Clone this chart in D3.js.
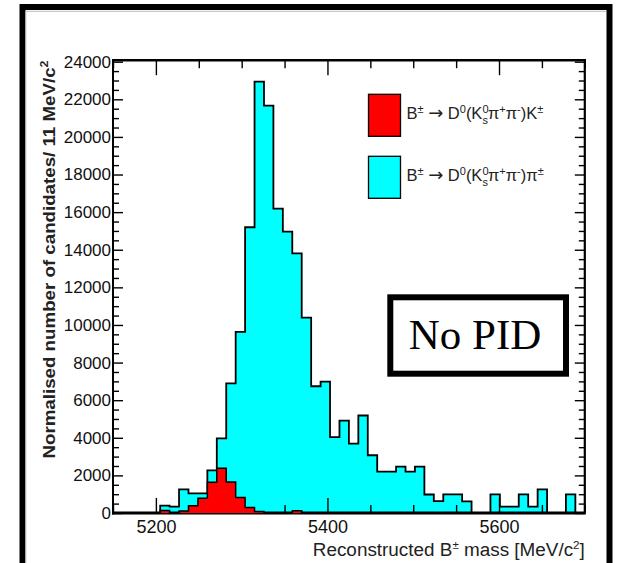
<!DOCTYPE html>
<html>
<head>
<meta charset="utf-8">
<script src="https://cdn.jsdelivr.net/npm/d3@7"></script>
<style>
  body { margin: 0; background: #fff; }
  svg { display: block; }
</style>
</head>
<body>
<svg id="chart" width="619" height="563"></svg>
<script>
// Binning of the reconstructed B mass: 50 bins of 11 MeV from 5150 to 5700
const massLow = 5150;
const binWidth = 11;
const massHigh = 5700;

// Normalised candidates per bin, B -> D0(Ks pi pi) pi (cyan)
const pionCounts = [
  0, 0, 0, 0, 0, 390, 337, 1260, 1046, 1046,
  2270, 3972, 6897, 9628, 15195, 22943, 21667, 16188, 14964, 13812,
  10390, 6740, 6985, 4040, 4910, 3690, 5185, 3070, 2198, 2198,
  2465, 2198, 2465, 985, 630, 994, 994, 620, 0, 0,
  994, 337, 337, 994, 337, 1260, 0, 0, 994, 0
];

// Normalised candidates per bin, B -> D0(Ks pi pi) K (red)
const kaonCounts = [
  0, 0, 0, 0, 0, 130, 0, 110, 390, 780,
  1630, 2380, 1650, 820, 290, 80, 0, 0, 0, 120,
  0, 0, 0, 0, 0, 0, 0, 0, 0, 0,
  0, 0, 0, 0, 0, 0, 0, 0, 0, 0,
  0, 0, 0, 0, 0, 0, 0, 0, 0, 0
];

const xTickLabels = [5200, 5400, 5600];
const yTickLabels = [0, 2000, 4000, 6000, 8000, 10000, 12000, 14000, 16000, 18000, 20000, 22000, 24000];

const svg = d3.select("#chart");

const plot = { left: 113, right: 584.8, top: 61.7, bottom: 513 };
const x = d3.scaleLinear().domain([massLow, massHigh]).range([plot.left, plot.right]);
const y = d3.scaleLinear().domain([0, 24000]).range([plot.bottom, plot.top]);

// Outer figure border
svg.append("rect")
  .attr("x", 22.5).attr("y", 7).attr("width", 587).attr("height", 570)
  .attr("fill", "none").attr("stroke", "#000").attr("stroke-width", 6);
svg.append("path")
  .attr("d", "M25.8,590V11.3H606")
  .attr("fill", "none").attr("stroke", "#bbb").attr("stroke-width", 1);

// Step outline of a histogram, built from bin edges and bin contents
function histPoints(counts) {
  const pts = [[massLow, 0]];
  counts.forEach((c, i) => {
    const lo = massLow + i * binWidth;
    pts.push([lo, c], [lo + binWidth, c]);
  });
  pts.push([massLow + counts.length * binWidth, 0]);
  return pts;
}
const stepLine = d3.line().x(d => x(d[0])).y(d => y(d[1]));

function drawHist(counts, color, width) {
  const pts = histPoints(counts);
  svg.append("path")
    .attr("d", stepLine(pts) + "Z")
    .attr("fill", color).attr("stroke", "none");
  svg.append("path")
    .attr("d", stepLine(pts))
    .attr("fill", "none").attr("stroke", "#000")
    .attr("stroke-width", width).attr("stroke-linejoin", "miter");
}

drawHist(pionCounts, "#00ffff", 1.8);

// Axes with inward ticks on all four sides
const minorX = d3.range(massLow, massHigh + 1, 50).filter(v => !xTickLabels.includes(v));
const minorY = d3.range(0, 24001, 500).filter(v => v % 2000 !== 0);

function styleAxis(g) {
  g.select(".domain").remove();
  g.selectAll(".tick line").attr("stroke", "#000").attr("stroke-width", 1.4);
}

svg.append("g").attr("transform", `translate(0,${plot.bottom})`)
  .call(d3.axisBottom(x).tickValues(minorX).tickSize(-8).tickFormat(""))
  .call(styleAxis);
svg.append("g").attr("class", "xmajor").attr("transform", `translate(0,${plot.bottom})`)
  .call(d3.axisBottom(x).tickValues(xTickLabels).tickSizeInner(-15).tickSizeOuter(0)
    .tickPadding(7).tickFormat(d3.format("d")))
  .call(styleAxis);
svg.append("g").attr("transform", `translate(0,${plot.top - 1.5})`)
  .call(d3.axisTop(x).tickValues(minorX).tickSize(-8).tickFormat(""))
  .call(styleAxis);
svg.append("g").attr("transform", `translate(0,${plot.top - 1.5})`)
  .call(d3.axisTop(x).tickValues(xTickLabels).tickSize(-15).tickFormat(""))
  .call(styleAxis);

svg.append("g").attr("transform", `translate(${plot.left},0)`)
  .call(d3.axisLeft(y).tickValues(minorY).tickSize(-6).tickFormat(""))
  .call(styleAxis);
// the top label is cut by the upper edge of the pad
svg.append("defs").append("clipPath").attr("id", "ylabclip")
  .attr("clipPathUnits", "userSpaceOnUse")
  .append("rect").attr("x", -200).attr("y", 54).attr("width", 400).attr("height", 509);
svg.append("g").attr("class", "ymajor").attr("transform", `translate(${plot.left},0)`)
  .attr("clip-path", "url(#ylabclip)")
  .call(d3.axisLeft(y).tickValues(yTickLabels).tickSizeInner(-10).tickSizeOuter(0)
    .tickPadding(2).tickFormat(d3.format("d")))
  .call(styleAxis);
svg.append("g").attr("transform", `translate(${plot.right},0)`)
  .call(d3.axisRight(y).tickValues(minorY).tickSize(-6).tickFormat(""))
  .call(styleAxis);
svg.append("g").attr("transform", `translate(${plot.right},0)`)
  .call(d3.axisRight(y).tickValues(yTickLabels).tickSize(-10).tickFormat(""))
  .call(styleAxis);

svg.selectAll(".xmajor text, .ymajor text")
  .attr("font-family", "'Liberation Sans', Arial, sans-serif")
  .attr("fill", "#111");
svg.selectAll(".xmajor text").attr("font-size", 18);
svg.selectAll(".ymajor text").attr("font-size", 17);

// Frame lines
const frame = svg.append("g").attr("stroke", "#000").attr("fill", "none");
frame.append("line").attr("x1", plot.left).attr("x2", plot.right + 1).attr("y1", plot.top - 1.5).attr("y2", plot.top - 1.5).attr("stroke-width", 2.4);
frame.append("line").attr("x1", plot.right).attr("x2", plot.right).attr("y1", plot.top - 2.7).attr("y2", plot.bottom).attr("stroke-width", 2.2);
frame.append("line").attr("x1", plot.left).attr("x2", plot.left).attr("y1", plot.top - 2.7).attr("y2", plot.bottom + 1.5).attr("stroke-width", 2);
frame.append("line").attr("x1", plot.left - 1).attr("x2", plot.right + 1).attr("y1", plot.bottom).attr("y2", plot.bottom).attr("stroke-width", 2.8);

// Kaon histogram is overlaid after the axes
drawHist(kaonCounts, "#ff0000", 1.5);

// Axis titles
const sans = "'Liberation Sans', Arial, sans-serif";
const xTitle = svg.append("text")
  .attr("x", plot.right).attr("y", 555.5)
  .attr("text-anchor", "end").attr("font-family", sans).attr("font-size", 18).attr("fill", "#222")
  .attr("textLength", 272).attr("lengthAdjust", "spacingAndGlyphs");
xTitle.append("tspan").text("Reconstructed B");
xTitle.append("tspan").attr("font-size", 11).attr("dy", -7).text("±");
xTitle.append("tspan").attr("dy", 7).text(" mass [MeV/c");
xTitle.append("tspan").attr("font-size", 11).attr("dy", -7).text("2");
xTitle.append("tspan").attr("dy", 7).text("]");

const yTitle = svg.append("text")
  .attr("transform", "translate(55,259.5) rotate(-90)")
  .attr("text-anchor", "middle").attr("font-family", sans)
  .attr("font-size", 16.5).attr("font-weight", "bold").attr("fill", "#222")
  .attr("textLength", 398).attr("lengthAdjust", "spacingAndGlyphs");
yTitle.append("tspan").text("Normalised number of candidates/ 11 MeV/c");
yTitle.append("tspan").attr("font-size", 11).attr("dy", -7).text("2");

// Legend
const legendEntries = [
  { color: "#ff0000", parts: [["B"], ["±", "sup"], [" "], ["\u2192", "arrow"], [" D"], ["0", "sup"], ["(K"], ["0", "sup"], ["s", "sub"], ["\u03c0"], ["+", "sup"], ["\u03c0"], ["-", "sup"], [")K"], ["±", "sup"]] },
  { color: "#00ffff", parts: [["B"], ["±", "sup"], [" "], ["\u2192", "arrow"], [" D"], ["0", "sup"], ["(K"], ["0", "sup"], ["s", "sub"], ["\u03c0"], ["+", "sup"], ["\u03c0"], ["-", "sup"], [")\u03c0"], ["±", "sup"]] }
];
const legendTop = [94.3, 156.3];
legendEntries.forEach((e, i) => {
  svg.append("rect")
    .attr("x", 368.5).attr("y", legendTop[i]).attr("width", 32).attr("height", 42)
    .attr("fill", e.color).attr("stroke", "#000").attr("stroke-width", 1.3);
  const t = svg.append("text")
    .attr("x", 406.5).attr("y", legendTop[i] + 25)
    .attr("font-family", sans).attr("font-size", 16.5).attr("fill", "#222");
  let shift = 0;
  e.parts.forEach(([s, kind]) => {
    const ts = t.append("tspan").text(s);
    let target = 0;
    if (kind === "sup") { ts.attr("font-size", 11); target = -6.5; }
    if (kind === "sub") { ts.attr("font-size", 11).attr("dx", -6.1); target = 5; }
    if (kind === "arrow") { ts.attr("font-family", "'DejaVu Sans', sans-serif").attr("font-size", 18); }
    ts.attr("dy", target - shift);
    shift = target;
  });
});

// "No PID" box
svg.append("rect")
  .attr("x", 390.3).attr("y", 297.3).attr("width", 175.7).attr("height", 76.4)
  .attr("fill", "#fff").attr("stroke", "#000").attr("stroke-width", 6);
svg.append("text")
  .attr("x", 475).attr("y", 348.5).attr("text-anchor", "middle")
  .attr("font-family", "'Liberation Serif', 'Times New Roman', serif")
  .attr("font-size", 43).attr("fill", "#000")
  .text("No PID");
</script>
</body>
</html>
